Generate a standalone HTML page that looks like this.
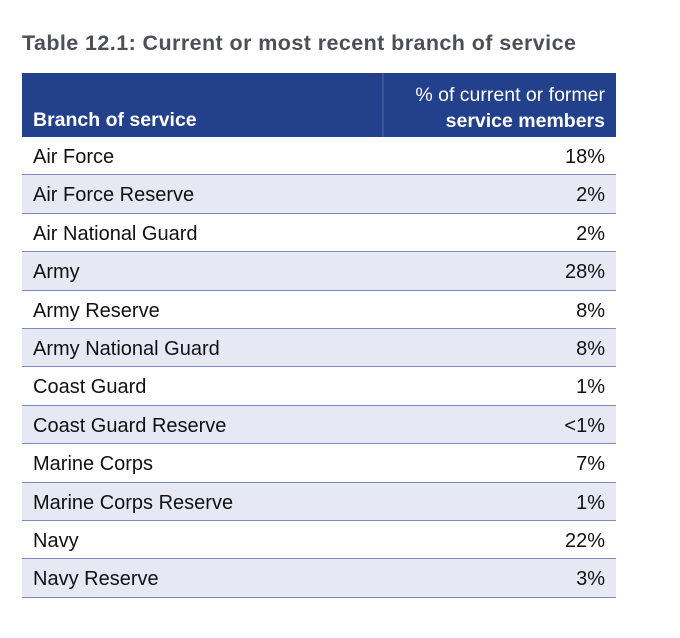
<!DOCTYPE html>
<html><head><meta charset="utf-8"><style>
body{margin:0;width:680px;height:638px;background:#fff;font-family:"Liberation Sans",sans-serif;position:relative;overflow:hidden}
#title{position:absolute;left:22px;top:31px;font-size:21.5px;letter-spacing:0.42px;font-weight:bold;color:#4b4f58;white-space:nowrap}
#hdr{position:absolute;left:22px;top:73px;width:594px;height:64px;background:#23408c}
#div{position:absolute;left:360px;top:0;width:2px;height:64px;background:#3a5699}
.h{position:absolute;color:#fff;font-size:19.5px;white-space:nowrap}
.row{position:absolute;left:22px;width:594px;height:38.4px;box-sizing:border-box;border-bottom:1.5px solid #7c8cc0;font-size:20px;color:#111}
.row.alt{background:#e6e8f4}
.row span{position:absolute;top:9px}
.l{left:11px}.r{right:11px}
</style></head><body>
<div id="title">Table 12.1: Current or most recent branch of service</div>
<div id="hdr">
<div id="div"></div>
<div class="h" style="left:11px;top:36px;font-weight:bold">Branch of service</div>
<div class="h" style="right:11px;top:9px;text-align:right;line-height:26px">% of current or former<br><b>service members</b></div>
</div>
<div id="rows"></div>
<script>
const branches=["Air Force","Air Force Reserve","Air National Guard","Army","Army Reserve","Army National Guard","Coast Guard","Coast Guard Reserve","Marine Corps","Marine Corps Reserve","Navy","Navy Reserve"];
const values=["18%","2%","2%","28%","8%","8%","1%","<1%","7%","1%","22%","3%"];
const c=document.getElementById('rows');
branches.forEach((b,i)=>{
 const r=document.createElement('div');
 r.className='row'+(i%2?' alt':'');
 r.style.top=(137+i*38.4)+'px';
 
 
 const a=document.createElement('span');a.className='l';a.textContent=b;
 
 
 const v=document.createElement('span');v.className='r';v.textContent=values[i];
 
 
 r.appendChild(a);r.appendChild(v);c.appendChild(r);
});
</script>
</body></html>
